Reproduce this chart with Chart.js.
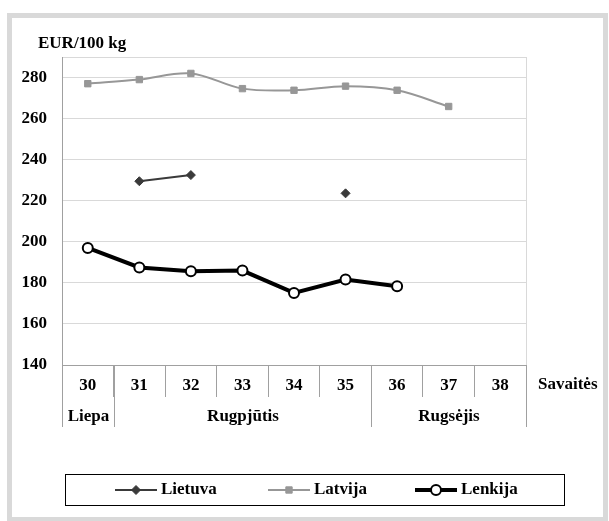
<!DOCTYPE html>
<html>
<head>
<meta charset="utf-8">
<script src="https://cdn.jsdelivr.net/npm/chart.js@4.4.0/dist/chart.umd.min.js"></script>
<style>
  html, body { margin: 0; padding: 0; background: #fff; }
  canvas { display: block; }
</style>
</head>
<body>
<canvas id="price-chart" width="609" height="521"></canvas>
<script>
const weeks = ['30', '31', '32', '33', '34', '35', '36', '37', '38'];
const monthLabels = ['Liepa', 'Rugpjūtis', 'Rugsėjis'];
const monthSpans = [1, 5, 3]; // how many weeks each month covers

const lietuva = [null, 229.5, 232.5, null, null, 223.6, null, null, null];
const latvija = [277, 279, 282, 274.6, 273.8, 275.8, 273.8, 265.9, null];
const lenkija = [197, 187.5, 185.7, 186, 175.1, 181.6, 178.4, null, null];

const yMin = 140;
const yMax = 290;
const yStep = 20;

const FONT = '"Liberation Serif", "Times New Roman", serif';
const boldFont = { family: FONT, size: 17, weight: 'bold' };
const axisGray = '#a0a0a0';
const gridGray = '#d9d9d9';

// frame, month row, axis titles and the boxed legend
const extrasPlugin = {
  id: 'extras',
  beforeDraw(chart) {
    const ctx = chart.ctx;
    ctx.save();
    ctx.fillStyle = '#fff';
    ctx.fillRect(0, 0, chart.width, chart.height);
    ctx.fillStyle = gridGray;
    ctx.fillRect(7, 13, 601, 5);
    ctx.fillRect(7, 13, 5, 508);
    ctx.fillRect(603, 13, 5, 508);
    ctx.fillRect(7, 517, 601, 5);
    ctx.restore();
  },
  afterDraw(chart) {
    const ctx = chart.ctx;
    const area = chart.chartArea;
    const x = chart.scales.x;
    ctx.save();

    // right edge of the plot
    ctx.strokeStyle = gridGray;
    ctx.lineWidth = 1;
    ctx.beginPath();
    ctx.moveTo(Math.round(area.right) + 0.5, area.top);
    ctx.lineTo(Math.round(area.right) + 0.5, area.bottom);
    ctx.stroke();

    // month groups under the week numbers
    const half = (x.getPixelForValue(1) - x.getPixelForValue(0)) / 2;
    ctx.font = 'bold 17px ' + FONT;
    ctx.fillStyle = '#000';
    ctx.textAlign = 'center';
    ctx.textBaseline = 'middle';
    ctx.strokeStyle = axisGray;
    let start = 0;
    monthLabels.forEach((label, i) => {
      const end = start + monthSpans[i];
      const x0 = Math.round(x.getPixelForValue(start) - half) + 0.5;
      const x1 = Math.round(x.getPixelForValue(end - 1) + half) + 0.5;
      ctx.beginPath();
      ctx.moveTo(x0, area.bottom);
      ctx.lineTo(x0, area.bottom + 62);
      ctx.moveTo(x1, area.bottom);
      ctx.lineTo(x1, area.bottom + 62);
      ctx.stroke();
      ctx.fillText(label, (x0 + x1) / 2, area.bottom + 52);
      start = end;
    });

    ctx.textAlign = 'left';
    ctx.fillText('Savaitės', area.right + 12, area.bottom + 20);
    ctx.fillText('EUR/100 kg', 38, 44);

    // legend
    ctx.strokeStyle = '#000';
    ctx.lineWidth = 1;
    ctx.strokeRect(65.5, 474.5, 499, 31);
    const itemX = [115, 268, 415];
    const ly = 490;
    chart.data.datasets.forEach((ds, i) => {
      const lx = itemX[i];
      ctx.strokeStyle = ds.borderColor;
      ctx.lineWidth = ds.borderWidth;
      ctx.beginPath();
      ctx.moveTo(lx, ly);
      ctx.lineTo(lx + 42, ly);
      ctx.stroke();
      ctx.fillStyle = ds.pointBackgroundColor;
      ctx.strokeStyle = ds.pointBorderColor;
      ctx.lineWidth = ds.pointBorderWidth;
      Chart.helpers.drawPoint(ctx, {
        pointStyle: ds.pointStyle,
        radius: ds.pointRadius,
        rotation: 0,
        borderWidth: ds.pointBorderWidth
      }, lx + 21, ly);
      ctx.fillStyle = '#000';
      ctx.fillText(ds.label, lx + 46, ly);
    });

    ctx.restore();
  }
};

new Chart(document.getElementById('price-chart'), {
  type: 'line',
  data: {
    labels: weeks,
    datasets: [
      {
        label: 'Lietuva',
        data: lietuva,
        borderColor: '#3a3a3a',
        borderWidth: 2,
        pointStyle: 'rectRot',
        pointRadius: 4.5,
        pointBackgroundColor: '#3a3a3a',
        pointBorderColor: '#3a3a3a',
        pointBorderWidth: 1,
        spanGaps: false
      },
      {
        label: 'Latvija',
        data: latvija,
        borderColor: '#979797',
        borderWidth: 2,
        tension: 0.35,
        pointStyle: 'rect',
        pointRadius: 4.5,
        pointBackgroundColor: '#979797',
        pointBorderColor: '#979797',
        pointBorderWidth: 1
      },
      {
        label: 'Lenkija',
        data: lenkija,
        borderColor: '#000',
        borderWidth: 4,
        pointStyle: 'circle',
        pointRadius: 5,
        pointBackgroundColor: '#fff',
        pointBorderColor: '#000',
        pointBorderWidth: 2
      }
    ]
  },
  options: {
    responsive: false,
    animation: false,
    devicePixelRatio: 1,
    layout: { padding: { left: 0, top: 57, right: 83, bottom: 0 } },
    plugins: {
      legend: { display: false },
      tooltip: { enabled: false }
    },
    scales: {
      x: {
        offset: true,
        grid: {
          offset: true,
          drawOnChartArea: false,
          drawTicks: true,
          tickLength: 32,
          color: axisGray
        },
        border: { color: axisGray },
        ticks: {
          color: '#000',
          font: boldFont,
          padding: -22,
          autoSkip: false,
          maxRotation: 0
        },
        afterFit(scale) { scale.height = 156; }
      },
      y: {
        min: yMin,
        max: yMax,
        grid: { color: gridGray, drawTicks: false },
        border: { color: axisGray },
        ticks: {
          stepSize: yStep,
          color: '#000',
          font: boldFont,
          padding: 15,
          callback: (v) => (v === yMax ? '' : v)
        },
        afterFit(scale) { scale.width = 62; }
      }
    }
  },
  plugins: [extrasPlugin]
});
</script>
</body>
</html>
